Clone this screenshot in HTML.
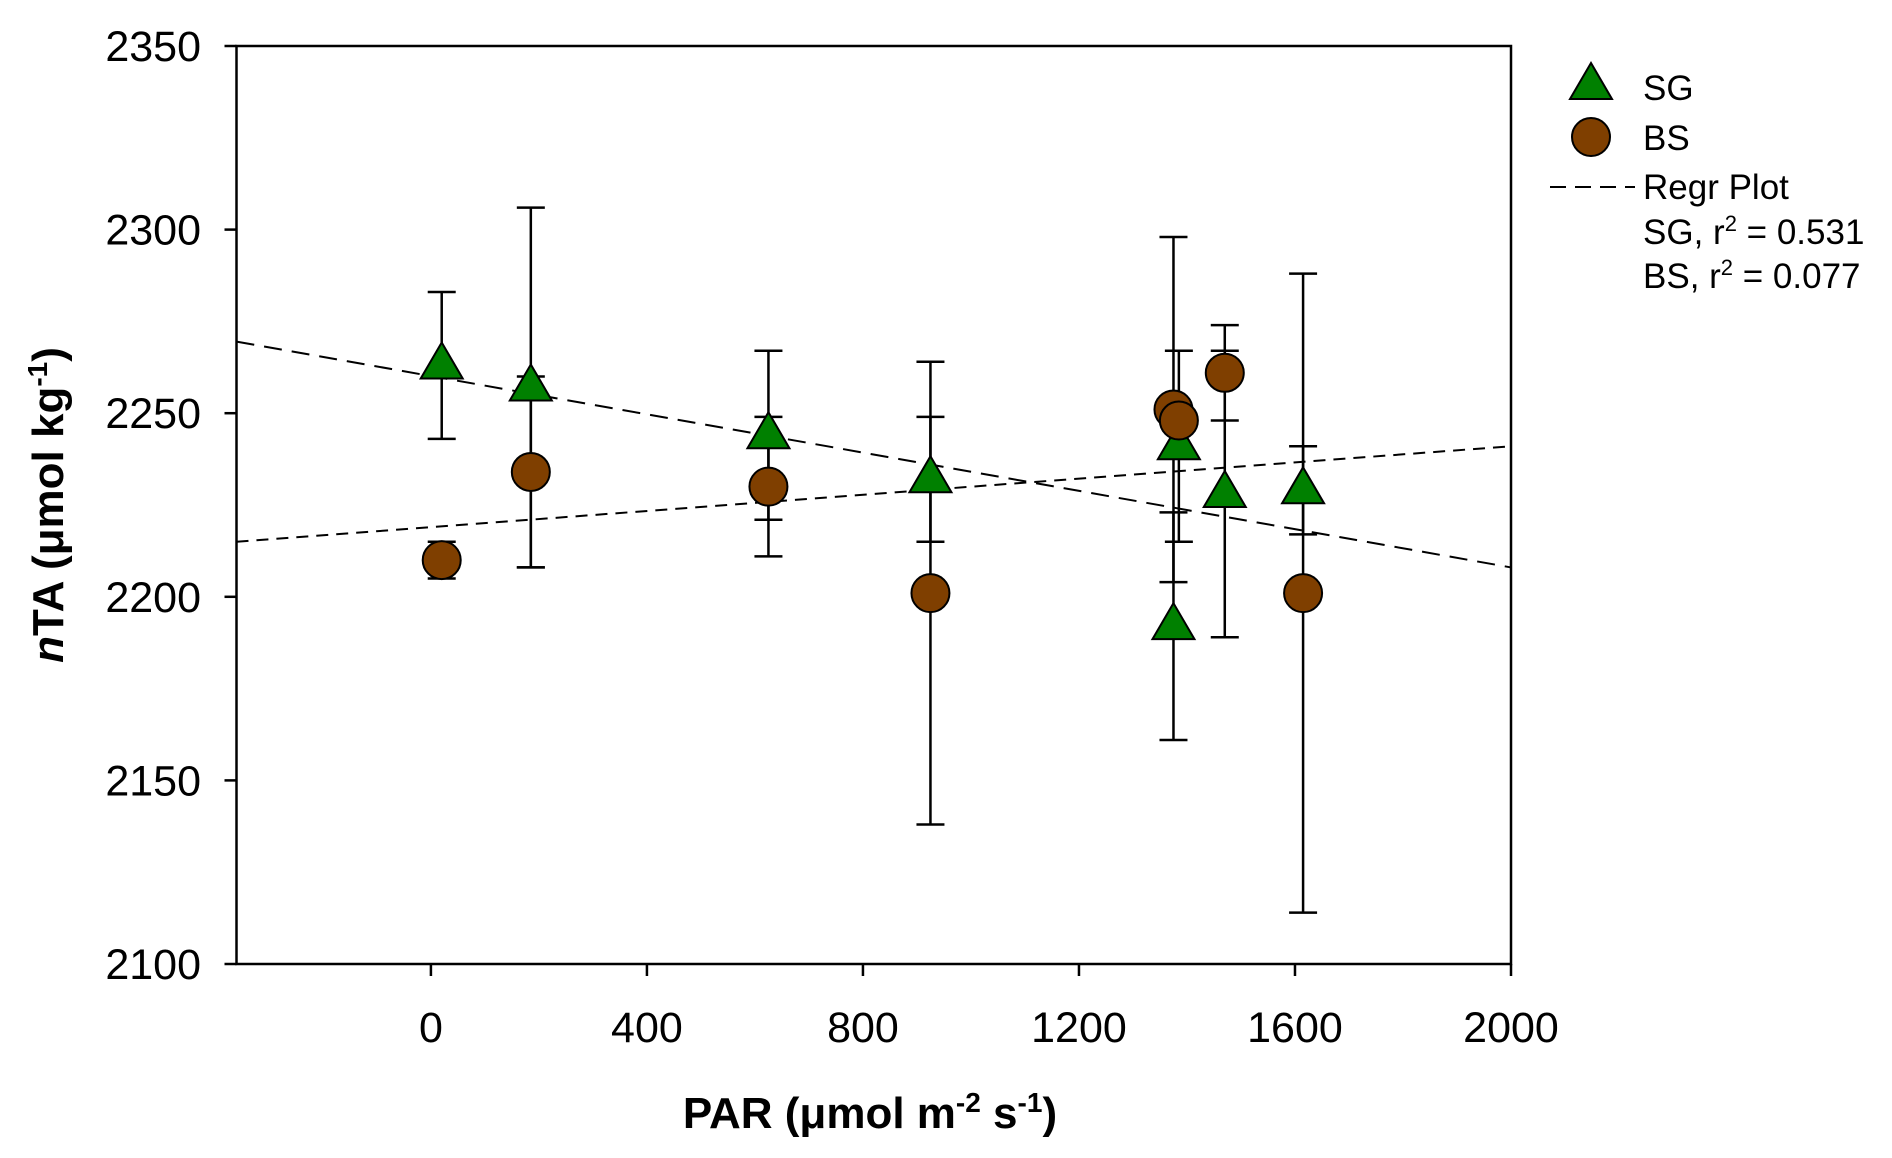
<!DOCTYPE html>
<html><head><meta charset="utf-8"><style>
html,body{margin:0;padding:0;background:#fff;}
svg{display:block;font-family:"Liberation Sans",Arial,sans-serif;}
</style></head><body>
<svg id="chart" width="1892" height="1158" viewBox="0 0 1892 1158">
<g id="grid"></g>
</svg>
<script>
const xTicks=[0,400,800,1200,1600,2000];
const yTicks=[2100,2150,2200,2250,2300,2350];
const sgX=[20,185,625,925,1375,1385,1470,1615];
const sgY=[2263,2257,2244,2232,2192,2241,2228,2229];
const sgErr=[20,49,23,17,31,26,39,12];
const bsX=[20,185,625,925,1375,1385,1470,1615];
const bsY=[2210,2234,2230,2201,2251,2248,2261,2201];
const bsErr=[5,26,19,63,47,0,13,87];
const regSG=[2269.5,2208];
const regBS=[2215,2241];
const xMin=-360,xMax=2000,yMin=2100,yMax=2350;
const L=236.5,R=1511,T=46,B=964;
const sx=v=>L+(v-xMin)/(xMax-xMin)*(R-L);
const sy=v=>B-(v-yMin)/(yMax-yMin)*(B-T);
const svg=document.getElementById('chart');
const NS='http://www.w3.org/2000/svg';
function mk(tag,attrs,parent){const e=document.createElementNS(NS,tag);for(const k in attrs)e.setAttribute(k,attrs[k]);(parent||svg).appendChild(e);return e;}
let f=mk('rect',{x:L,y:T,width:R-L,height:B-T,fill:'none',stroke:'#000','stroke-width':2.5});


xTicks.forEach(v=>{
 let t=mk('line',{x1:sx(v),x2:sx(v),y1:B,y2:B+12,stroke:'#000','stroke-width':2.5});
 
 
 let lb=mk('text',{x:sx(v),y:1042,'font-size':43,'text-anchor':'middle'});
 lb.textContent=v;
 
 
});
yTicks.forEach(v=>{
 let t=mk('line',{x1:L-12,x2:L,y1:sy(v),y2:sy(v),stroke:'#000','stroke-width':2.5});
 
 
 let lb=mk('text',{x:201,y:sy(v)+15,'font-size':43,'text-anchor':'end'});
 lb.textContent=v;
 
 
});
[[regSG,'regression-line-sg',[18,10]],[regBS,'regression-line-bs',[12,8]]].forEach(([r,n,d])=>{
 let l=mk('line',{x1:sx(xMin),y1:sy(r[0]),x2:sx(xMax),y2:sy(r[1]),stroke:'#000','stroke-width':2,'stroke-dasharray':d.join(',')});
 
 
});
function errbar(x,y,e,n){
 if(!e)return;
 const g=mk('g',{stroke:'#000','stroke-width':2.5});
 
 
 mk('line',{x1:sx(x),x2:sx(x),y1:sy(y-e),y2:sy(y+e)},g);
 mk('line',{x1:sx(x)-14,x2:sx(x)+14,y1:sy(y-e),y2:sy(y-e)},g);
 mk('line',{x1:sx(x)-14,x2:sx(x)+14,y1:sy(y+e),y2:sy(y+e)},g);
}
sgX.forEach((x,i)=>errbar(x,sgY[i],sgErr[i],'sg-error-bar'));
bsX.forEach((x,i)=>errbar(x,bsY[i],bsErr[i],'bs-error-bar'));
sgX.forEach((x,i)=>{
 const cx=sx(x),cy=sy(sgY[i]);
 let p=mk('polygon',{points:`${cx},${cy-23} ${cx-21},${cy+13} ${cx+21},${cy+13}`,fill:'#008000',stroke:'#000','stroke-width':2});
 
 
});
bsX.forEach((x,i)=>{
 let c=mk('circle',{cx:sx(x),cy:sy(bsY[i]),r:19,fill:'#7f3f00',stroke:'#000','stroke-width':2});
 
 
});
</script>
<svg style="position:absolute;left:0;top:0" width="1892" height="1158">
<g font-family="Liberation Sans, Arial, sans-serif" font-size="35">
<polygon points="1591,63 1570,99 1612,99" fill="#008000" stroke="#000" stroke-width="2"/>
<text x="1643" y="100">SG</text>
<circle cx="1591" cy="137" r="19" fill="#7f3f00" stroke="#000" stroke-width="2"/>
<text x="1643" y="150">BS</text>
<line x1="1550" y1="187" x2="1635" y2="187" stroke="#000" stroke-width="2" stroke-dasharray="16,9"/>
<text x="1643" y="199">Regr Plot</text>
<text x="1643" y="244">SG, r<tspan dy="-13" font-size="22">2</tspan><tspan dy="13"> = 0.531</tspan></text>
<text x="1643" y="288">BS, r<tspan dy="-13" font-size="22">2</tspan><tspan dy="13"> = 0.077</tspan></text>
</g>
<text x="870" y="1128" font-family="Liberation Sans, Arial, sans-serif" font-size="44" font-weight="bold" text-anchor="middle">PAR (μmol m<tspan dy="-16" font-size="28">-2</tspan><tspan dy="16"> s</tspan><tspan dy="-16" font-size="28">-1</tspan><tspan dy="16">)</tspan></text>
<text transform="translate(63,505) rotate(-90)" font-family="Liberation Sans, Arial, sans-serif" font-size="44" font-weight="bold" text-anchor="middle"><tspan font-style="italic">n</tspan>TA (μmol kg<tspan dy="-16" font-size="28">-1</tspan><tspan dy="16">)</tspan></text>
</svg>
</body></html>
